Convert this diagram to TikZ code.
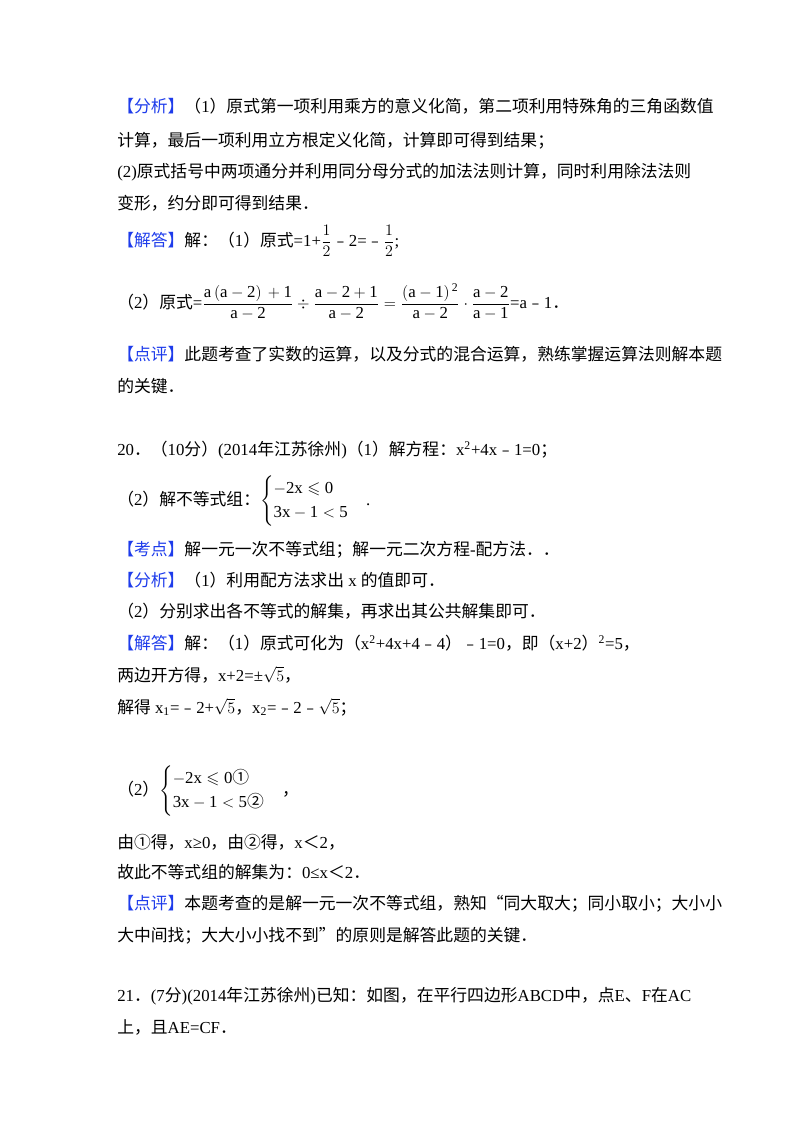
\documentclass[tikz,border=0pt]{standalone}
\usepackage{amsmath,amssymb}
\usepackage{fontspec}
\setmainfont{Liberation Serif}
\newfontfamily\cjk{Noto Sans CJK SC}
\newfontfamily\latn{Liberation Serif}
\XeTeXinterchartokenstate=1
\newXeTeXintercharclass\cjkclass
\newcount\cc
\def\setrange#1#2{\cc=#1\relax\loop\XeTeXcharclass\cc=\cjkclass\advance\cc by 1\relax\ifnum\cc<#2\repeat}
\setrange{"4E00}{"A000}
\setrange{"3000}{"3040}
\setrange{"FF00}{"FF5F}
\setrange{"FE30}{"FE70}
\setrange{"2460}{"2474}
\setrange{"201C}{"201E}
\XeTeXinterchartoks 0 \cjkclass = {\cjk}
\XeTeXinterchartoks 4095 \cjkclass = {\cjk}
\XeTeXinterchartoks \cjkclass 0 = {\latn}
\XeTeXinterchartoks \cjkclass 4095 = {\latn}
\definecolor{lbl}{RGB}{30,60,235}
\newcommand{\tg}[1]{\textcolor{lbl}{#1}}
\begin{document}
\begin{tikzpicture}[x=0.75pt,y=-0.75pt,
  tl/.style={anchor=base west,inner sep=0pt,font=\fontsize{12.6}{15}\selectfont}]
\useasboundingbox (0,0) rectangle (800,1132);
\node[tl] (l1) at (117,112) {\tg{【分析】}（1）原式第一项利用乘方的意义化简，第二项利用特殊角的三角函数值};
\node[tl] (l2) at (117,146) {计算，最后一项利用立方根定义化简，计算即可得到结果；};
\node[tl] (l3) at (117,177) {(2)原式括号中两项通分并利用同分母分式的加法法则计算，同时利用除法法则};
\node[tl] (l4) at (117,209) {变形，约分即可得到结果．};
\node[tl] (l5) at (117,246) {\tg{【解答】}解：（1）原式=1+$\dfrac{1}{2}$﹣2=﹣$\dfrac{1}{2}$;};
\node[tl] (l6) at (117,308) {（2）原式=$\dfrac{\mathrm{a\,(a-2)\,+1}}{\mathrm{a-2}}\div\dfrac{\mathrm{a-2+1}}{\mathrm{a-2}}=\dfrac{\mathrm{(a-1)^{\,2}}}{\mathrm{a-2}}\cdot\dfrac{\mathrm{a-2}}{\mathrm{a-1}}$=a﹣1．};
\node[tl] (l7) at (117,360) {\tg{【点评】}此题考查了实数的运算，以及分式的混合运算，熟练掌握运算法则解本题};
\node[tl] (l8) at (117,392) {的关键．};
\node[tl] (l9) at (117,455) {20．（10分）(2014年江苏徐州)（1）解方程：x\textsuperscript{2}+4x﹣1=0；};
\node[tl] (l10) at (117,505) {（2）解不等式组：$\begin{cases}\mathrm{-2x\leqslant0}\\ \mathrm{3x-1<5}\end{cases}$.};
\node[tl] (l11) at (117,555) {\tg{【考点】}解一元一次不等式组；解一元二次方程-配方法．．};
\node[tl] (l12) at (117,586) {\tg{【分析】}（1）利用配方法求出 x 的值即可．};
\node[tl] (l13) at (117,617) {（2）分别求出各不等式的解集，再求出其公共解集即可．};
\node[tl] (l14) at (117,649) {\tg{【解答】}解：（1）原式可化为（x\textsuperscript{2}+4x+4﹣4）﹣1=0，即（x+2）\textsuperscript{2}=5，};
\node[tl] (l15) at (117,681) {两边开方得，x+2=±$\sqrt{5}$，};
\node[tl] (l16) at (117,713) {解得 x\textsubscript{1}=﹣2+$\sqrt{5}$，x\textsubscript{2}=﹣2﹣$\sqrt{5}$；};
\node[tl] (l17) at (117,795) {（2）$\begin{cases}\mathrm{-2x\leqslant0}\text{①}\\ \mathrm{3x-1<5}\text{②}\end{cases}$，};
\node[tl] (l18) at (117,848) {由①得，x≥0，由②得，x＜2，};
\node[tl] (l19) at (117,878) {故此不等式组的解集为：0≤x＜2．};
\node[tl] (l20) at (117,909) {\tg{【点评】}本题考查的是解一元一次不等式组，熟知“同大取大；同小取小；大小小};
\node[tl] (l21) at (117,941) {大中间找；大大小小找不到”的原则是解答此题的关键．};
\node[tl] (l22) at (117,1001) {21．(7分)(2014年江苏徐州)已知：如图，在平行四边形ABCD中，点E、F在AC};
\node[tl] (l23) at (117,1033) {上，且AE=CF．};
\end{tikzpicture}
\end{document}
